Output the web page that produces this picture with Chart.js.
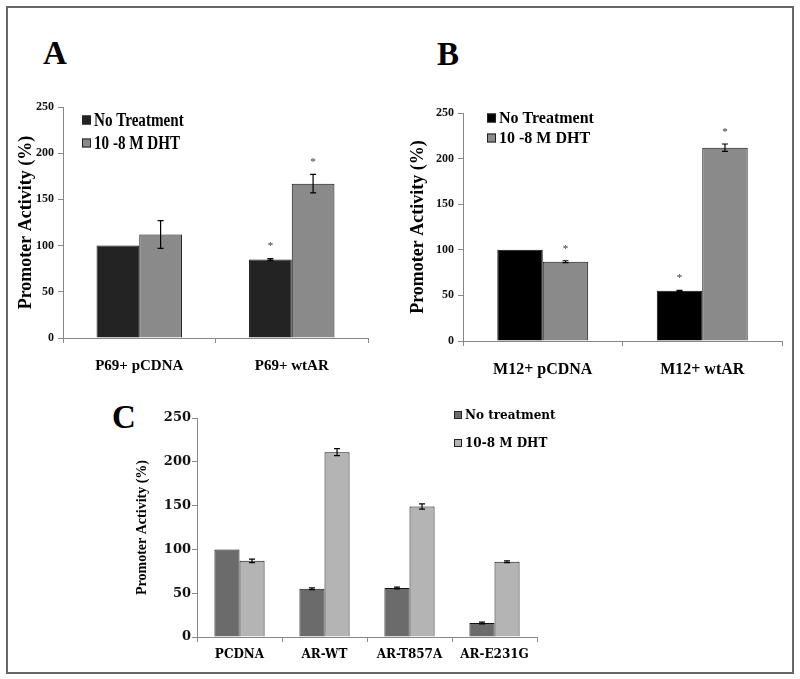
<!DOCTYPE html>
<html>
<head>
<meta charset="utf-8">
<script src="https://cdn.jsdelivr.net/npm/chart.js@4.4.1/dist/chart.umd.min.js"></script>
<style>
  body { margin: 0; background: #fff; }
  #hoja { position: relative; width: 800px; height: 679px; background: #fff; overflow: hidden; }
  #marco { position: absolute; left: 6px; top: 6px; width: 788px; height: 668px; box-sizing: border-box; border: 2px solid #666; }
  canvas { position: absolute; }
  .letra { position: absolute; font-family: "Liberation Serif", serif; font-weight: bold; font-size: 33px; line-height: 33px; color: #000; }
</style>
</head>
<body>
<div id="hoja">
  <div id="marco"></div>
  <div class="letra" style="left:43px; top:37px;">A</div>
  <div class="letra" style="left:437px; top:38px;">B</div>
  <div class="letra" style="left:112px; top:401px;">C</div>
  <canvas id="graficoA" width="400" height="390" style="left:0px; top:0px;"></canvas>
  <canvas id="graficoB" width="400" height="390" style="left:400px; top:0px;"></canvas>
  <canvas id="graficoC" width="600" height="290" style="left:100px; top:380px;"></canvas>
</div>
<script>
// datos
const categoriasA = ['P69+ pCDNA', 'P69+ wtAR'];
const sinTratamientoA = [100, 85];
const dhtA = [112, 167];
const errorSinA = [0, 1];
const errorDhtA = [15, 10];
const estrellaSinA = [false, true];
const estrellaDhtA = [false, true];

const categoriasB = ['M12+ pCDNA', 'M12+ wtAR'];
const sinTratamientoB = [100, 55];
const dhtB = [87, 212];
const errorSinB = [0, 0.5];
const errorDhtB = [1, 4];
const estrellaSinB = [false, true];
const estrellaDhtB = [true, true];

const categoriasC = ['PCDNA', 'AR-WT', 'AR-T857A', 'AR-E231G'];
const sinTratamientoC = [100, 55, 56, 16];
const dhtC = [87, 211, 149, 86];
const errorSinC = [0, 1, 1, 1];
const errorDhtC = [2, 4, 3, 1];

const ticksY = [0, 50, 100, 150, 200, 250];

const SERIF = '"Liberation Serif", serif';
const SERIF_ANCHA = '"DejaVu Serif", serif';

// barras de error y asteriscos
const pluginErrores = {
  id: 'errores',
  afterDatasetsDraw(chart) {
    const ctx = chart.ctx;
    const escalaY = chart.scales.y;
    chart.data.datasets.forEach((ds, i) => {
      const meta = chart.getDatasetMeta(i);
      meta.data.forEach((barra, j) => {
        const err = ds.errores ? ds.errores[j] : 0;
        const v = ds.data[j];
        let arriba = escalaY.getPixelForValue(v + err);
        if (err > 0) {
          const abajo = escalaY.getPixelForValue(v - err);
          ctx.save();
          ctx.strokeStyle = '#000';
          ctx.lineWidth = 1.2;
          ctx.beginPath();
          ctx.moveTo(barra.x, arriba);
          ctx.lineTo(barra.x, abajo);
          ctx.moveTo(barra.x - 3, arriba);
          ctx.lineTo(barra.x + 3, arriba);
          ctx.moveTo(barra.x - 3, abajo);
          ctx.lineTo(barra.x + 3, abajo);
          ctx.stroke();
          ctx.restore();
        }
        if (ds.estrellas && ds.estrellas[j]) {
          ctx.save();
          ctx.fillStyle = '#333';
          ctx.font = '11px ' + SERIF;
          ctx.textAlign = 'center';
          ctx.textBaseline = 'middle';
          ctx.fillText('*', barra.x, Math.min(arriba, barra.y) - 12);
          ctx.restore();
        }
      });
    });
  }
};

// leyenda dibujada dentro del area del grafico
const pluginLeyenda = {
  id: 'leyendaInterna',
  afterDraw(chart, args, opts) {
    const ctx = chart.ctx;
    const area = chart.chartArea;
    ctx.save();
    ctx.font = 'bold ' + opts.tamano + 'px ' + opts.familia;
    ctx.textBaseline = 'middle';
    chart.data.datasets.forEach((ds, i) => {
      const x = area.left + opts.dx;
      const y = area.top + opts.dy + i * opts.paso;
      const lado = opts.caja;
      ctx.fillStyle = ds.backgroundColor;
      ctx.fillRect(x, y - lado / 2, lado, lado);
      ctx.strokeStyle = '#222';
      ctx.lineWidth = 1;
      ctx.strokeRect(x + 0.5, y - lado / 2 + 0.5, lado - 1, lado - 1);
      ctx.fillStyle = '#000';
      ctx.save();
      ctx.translate(x + lado + 3, y + 1);
      ctx.scale(opts.estirar, 1);
      ctx.fillText(ds.label, 0, 0);
      ctx.restore();
    });
    ctx.restore();
  }
};

function CrearGrafico(id, cfg) {
  let ctx = document.getElementById(id);
  return new Chart(ctx, {
    type: 'bar',
    data: {
      labels: cfg.categorias,
      datasets: [{
        label: cfg.etiquetas[0],
        data: cfg.serie1,
        errores: cfg.error1,
        estrellas: cfg.estrella1,
        backgroundColor: cfg.colores[0],
        borderColor: '#111',
        borderWidth: 1,
        categoryPercentage: cfg.ancho,
        barPercentage: 1
      }, {
        label: cfg.etiquetas[1],
        data: cfg.serie2,
        errores: cfg.error2,
        estrellas: cfg.estrella2,
        backgroundColor: cfg.colores[1],
        borderColor: '#111',
        borderWidth: 1,
        categoryPercentage: cfg.ancho,
        barPercentage: 1
      }]
    },
    options: {
      responsive: false,
      animation: false,
      layout: { padding: cfg.relleno },
      plugins: {
        legend: { display: false },
        tooltip: { enabled: false },
        leyendaInterna: cfg.leyenda
      },
      scales: {
        x: {
          grid: { drawOnChartArea: false, tickLength: 5, color: '#888', offset: true },
          border: { color: '#888', width: 1 },
          ticks: { color: '#000', padding: cfg.xPadding, font: { family: cfg.familia, weight: 'bold', size: cfg.xFuente } },
          afterFit: (s) => { s.height = cfg.xAlto; }
        },
        y: {
          min: 0,
          max: 250,
          afterBuildTicks: (s) => { s.ticks = ticksY.map(v => ({ value: v })); },
          grid: { drawOnChartArea: false, tickLength: 5, color: '#888' },
          border: { color: '#888', width: 1 },
          ticks: { color: '#111', padding: cfg.yPadding, font: { family: cfg.familia, weight: 'bold', size: cfg.yFuente } },
          title: {
            display: true,
            text: 'Promoter Activity (%)',
            color: '#000',
            padding: { top: cfg.tituloPad, bottom: 0 },
            font: { family: SERIF, weight: 'bold', size: cfg.tituloFuente }
          },
          afterFit: (s) => { s.width = cfg.yAncho; }
        }
      }
    },
    plugins: [pluginErrores, pluginLeyenda]
  });
}

CrearGrafico('graficoA', {
  categorias: categoriasA,
  etiquetas: ['No Treatment', '10 -8 M DHT'],
  serie1: sinTratamientoA, serie2: dhtA,
  error1: errorSinA, error2: errorDhtA,
  estrella1: estrellaSinA, estrella2: estrellaDhtA,
  colores: ['#232323', '#8a8a8a'],
  ancho: 0.56,
  familia: SERIF,
  relleno: { left: 8, right: 32, top: 107, bottom: 0 },
  xAlto: 52, xPadding: 14, xFuente: 15,
  yAncho: 55, yFuente: 12, yPadding: 4,
  tituloPad: 8, tituloFuente: 18,
  leyenda: { dx: 19, dy: 13, paso: 23, caja: 9, tamano: 18, estirar: 0.84, familia: SERIF }
});

CrearGrafico('graficoB', {
  categorias: categoriasB,
  etiquetas: ['No Treatment', '10 -8 M DHT'],
  serie1: sinTratamientoB, serie2: dhtB,
  error1: errorSinB, error2: errorDhtB,
  estrella1: estrellaSinB, estrella2: estrellaDhtB,
  colores: ['#000000', '#8a8a8a'],
  ancho: 0.57,
  familia: SERIF,
  relleno: { left: 4, right: 18, top: 113, bottom: 0 },
  xAlto: 49, xPadding: 14, xFuente: 16,
  yAncho: 59, yFuente: 12, yPadding: 4,
  tituloPad: 4, tituloFuente: 18,
  leyenda: { dx: 24, dy: 5, paso: 20, caja: 9, tamano: 16, estirar: 1, familia: SERIF }
});

CrearGrafico('graficoC', {
  categorias: categoriasC,
  etiquetas: ['No treatment', '10-8 M DHT'],
  serie1: sinTratamientoC, serie2: dhtC,
  error1: errorSinC, error2: errorDhtC,
  estrella1: null, estrella2: null,
  colores: ['#6b6b6b', '#b4b4b4'],
  ancho: 0.59,
  familia: SERIF_ANCHA,
  relleno: { left: 26, right: 163, top: 38, bottom: 0 },
  xAlto: 33, xPadding: 6, xFuente: 12,
  yAncho: 71, yFuente: 13, yPadding: 1,
  tituloPad: 8, tituloFuente: 14,
  leyenda: { dx: 257, dy: -3, paso: 28, caja: 8, tamano: 12, estirar: 1, familia: SERIF_ANCHA }
});
</script>
</body>
</html>
